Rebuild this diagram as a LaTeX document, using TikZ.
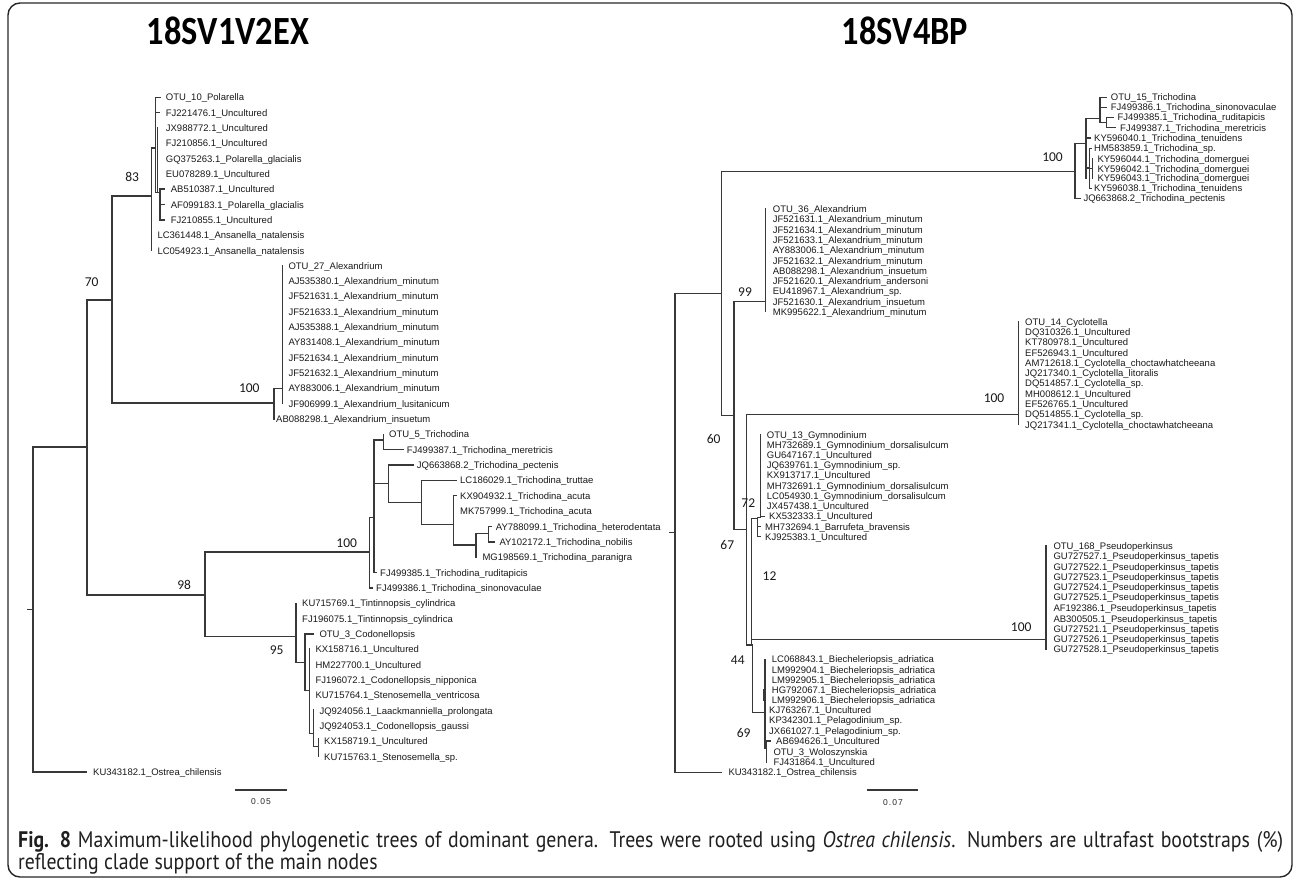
\documentclass[tikz,border=0pt]{standalone}
\usepackage{fontspec}
\setmainfont{Liberation Sans}
\newfontfamily\leaffont{Liberation Sans}
\newfontfamily\bsfont{Carlito}
\newfontfamily\ttlfont{Carlito}
\newfontfamily\capfont{PT Sans}[FakeStretch=0.88]
\newcount\leafno
\tikzset{
  br/.style={draw=black!78, line width=1.2pt, line cap=rect},
  leaf/.style={anchor=base west, inner sep=0pt, font=\leaffont\fontsize{9.5}{10}\selectfont, text=black!90},
  boot/.style={inner sep=0pt, font=\bsfont\fontsize{13.5}{14}\selectfont, text=black!90},
  ttl/.style={inner sep=0pt, font=\ttlfont\bfseries\fontsize{40}{44}\selectfont, xscale=0.86},
  sbar/.style={inner sep=0pt, font=\leaffont\fontsize{8.5}{9}\selectfont\addfontfeature{LetterSpace=12}, text=black!85},
  capt/.style={anchor=base west, inner sep=0pt, font=\capfont\fontsize{22.5}{26}\selectfont, text=black!88},
  frame/.style={draw=black!85, line width=1.4pt, rounded corners=12pt}
}
\newcommand\lf[3]{\global\advance\leafno by 1\relax\node[leaf] (leaf\the\leafno) at (#1,{#2+3.4}) {#3};}
\newcommand\bsl[4]{\node[boot] (#1) at (#2,#3) {#4};}
\begin{document}
\begin{tikzpicture}[x=1pt,y=-1pt]
\useasboundingbox (0,0) rectangle (1295,879);
\draw[frame] (8,3) rectangle (1292,877);
\node[ttl] (title1) at (228,31) {18SV1V2EX};
\node[ttl] (title2) at (905,31) {18SV4BP};
% ================= LEFT TREE =================
\draw[br] (28,609.5)--(33,609.5) (33,447)--(33,772) (33,772)--(86,772) (33,447)--(87,447)
  (87,300)--(87,595) (87,300)--(112,300) (87,595)--(205,595)
  (112,196)--(112,403) (112,196)--(151.7,196) (112,403)--(274,403);
% 83 clade
\draw[br] (151.7,148)--(151.7,250.7) (151.7,148)--(155.7,148)
  (155.7,97.3)--(155.7,192.7) (155.7,97.3)--(160,97.3) (155.7,112.7)--(159,112.7)
  (157.3,128)--(157.3,192.7) (155.7,192.7)--(160,192.7)
  (160,189)--(160,220) (160,189)--(164,189) (160,204.7)--(164,204.7) (160,220)--(164,220);
\lf{165.7}{97.3}{OTU\_10\_Polarella}
\lf{165.7}{112.7}{FJ221476.1\_Uncultured}
\lf{165.7}{128}{JX988772.1\_Uncultured}
\lf{165.7}{143.3}{FJ210856.1\_Uncultured}
\lf{165.7}{158.7}{GQ375263.1\_Polarella\_glacialis}
\lf{165.7}{174}{EU078289.1\_Uncultured}
\lf{170.7}{189}{AB510387.1\_Uncultured}
\lf{170.7}{204.7}{AF099183.1\_Polarella\_glacialis}
\lf{170.7}{220}{FJ210855.1\_Uncultured}
\lf{157.3}{235.3}{LC361448.1\_Ansanella\_natalensis}
\lf{157.3}{250.7}{LC054923.1\_Ansanella\_natalensis}
% Alexandrium clade
\draw[br] (274,388.3)--(274,419) (274,388.3)--(282.7,388.3) (282.7,265.7)--(282.7,403.7);
\lf{288.3}{265.7}{OTU\_27\_Alexandrium}
\lf{288.3}{281}{AJ535380.1\_Alexandrium\_minutum}
\lf{288.3}{296.3}{JF521631.1\_Alexandrium\_minutum}
\lf{288.3}{311.7}{JF521633.1\_Alexandrium\_minutum}
\lf{288.3}{327}{AJ535388.1\_Alexandrium\_minutum}
\lf{288.3}{342.3}{AY831408.1\_Alexandrium\_minutum}
\lf{288.3}{357.7}{JF521634.1\_Alexandrium\_minutum}
\lf{288.3}{373}{JF521632.1\_Alexandrium\_minutum}
\lf{288.3}{388.3}{AY883006.1\_Alexandrium\_minutum}
\lf{288.3}{403.7}{JF906999.1\_Alexandrium\_lusitanicum}
\lf{276}{419}{AB088298.1\_Alexandrium\_insuetum}
% 98 clade
\draw[br] (205,552)--(205,636.7) (205,552)--(369.3,552) (205,636.7)--(296,636.7);
% Trichodina
\draw[br] (369.3,517.3)--(369.3,588) (369.3,588)--(372,588) (369.3,517.3)--(374,517.3)
  (374,440)--(374,572.7) (374,572.7)--(376,572.7) (374,440)--(383.3,440)
  (383.3,434.3)--(383.3,449.7) (383.3,449.7)--(403.3,449.7)
  (374,483.3)--(388.3,483.3) (388.3,465)--(388.3,502.7) (388.3,465)--(413.3,465)
  (388.3,502.7)--(421.7,502.7) (421.7,480.3)--(421.7,524.3) (421.7,480.3)--(456.7,480.3)
  (421.7,524.3)--(453.3,524.3) (453.3,495.7)--(453.3,545) (453.3,495.7)--(456,495.7)
  (453.3,545)--(476,545) (476,533.3)--(476,557.3) (476,533.3)--(488.3,533.3)
  (488.3,526.7)--(488.3,542) (488.3,526.7)--(491,526.7) (488.3,542)--(494,542);
\lf{389}{434.3}{OTU\_5\_Trichodina}
\lf{406.7}{449.7}{FJ499387.1\_Trichodina\_meretricis}
\lf{416.7}{465}{JQ663868.2\_Trichodina\_pectenis}
\lf{460}{480.3}{LC186029.1\_Trichodina\_truttae}
\lf{460}{495.7}{KX904932.1\_Trichodina\_acuta}
\lf{460}{511.3}{MK757999.1\_Trichodina\_acuta}
\lf{495.7}{526.7}{AY788099.1\_Trichodina\_heterodentata}
\lf{499.3}{542}{AY102172.1\_Trichodina\_nobilis}
\lf{482.3}{557.3}{MG198569.1\_Trichodina\_paranigra}
\lf{380}{572.7}{FJ499385.1\_Trichodina\_ruditapicis}
\lf{376}{588}{FJ499386.1\_Trichodina\_sinonovaculae}
% 95 clade
\draw[br] (296,603.3)--(296,662.7) (296,662.7)--(305,662.7) (305,634)--(305,690.7)
  (305,634)--(313.3,634) (305,690.7)--(309.3,690.7) (309.3,648.3)--(309.3,733.3)
  (309.3,733.3)--(313.3,733.3) (313.3,709.3)--(313.3,746.7) (313.3,746.7)--(318.3,746.7)
  (318.3,738.3)--(318.3,756.7);
\lf{302}{603.3}{KU715769.1\_Tintinnopsis\_cylindrica}
\lf{302}{618.7}{FJ196075.1\_Tintinnopsis\_cylindrica}
\lf{319.3}{634}{OTU\_3\_Codonellopsis}
\lf{315.3}{649.3}{KX158716.1\_Uncultured}
\lf{315.3}{664.7}{HM227700.1\_Uncultured}
\lf{315.3}{680}{FJ196072.1\_Codonellopsis\_nipponica}
\lf{315.3}{695.3}{KU715764.1\_Stenosemella\_ventricosa}
\lf{319.3}{710.7}{JQ924056.1\_Laackmanniella\_prolongata}
\lf{319.3}{726}{JQ924053.1\_Codonellopsis\_gaussi}
\lf{324}{741.3}{KX158719.1\_Uncultured}
\lf{324}{756.7}{KU715763.1\_Stenosemella\_sp.}
\lf{93}{772}{KU343182.1\_Ostrea\_chilensis}
% bootstraps left
\bsl{b83}{132.2}{176.7}{83}
\bsl{b70}{91.7}{281.7}{70}
\bsl{b100a}{249.3}{388.3}{100}
\bsl{b100b}{346.7}{542.7}{100}
\bsl{b98}{184.2}{585}{98}
\bsl{b95}{276.7}{650}{95}
% scale bar left
\draw[br] (236,790)--(286,790);
\node[sbar] (sb1) at (261,802) {0.05};
% ================= RIGHT TREE =================
\draw[br] (670,532.7)--(675,532.7) (675,293.3)--(675,772.3) (675,772.3)--(721.7,772.3)
  (675,293.3)--(721.7,293.3) (721.7,171.7)--(721.7,415.7) (721.7,171.7)--(1075,171.7)
  (721.7,415.7)--(734,415.7) (746.7,414.3)--(1018.3,414.3)
  (734,301.7)--(734,529.3) (734,301.7)--(765.7,301.7)
  (765.7,209)--(765.7,311.7) (1018.3,321.7)--(1018.3,424.7)
  (734,529.3)--(746.7,529.3) (746.7,414.3)--(746.7,645) (751.7,518.3)--(751.7,645)
  (746.7,645)--(752.7,645) (751.7,639.3)--(1046,639.3) (1046,546)--(1046,649.3)
  (751.7,518.3)--(757.3,518.3) (757.3,517.3)--(757.3,536.7) (757.3,526.7)--(760,526.7)
  (757.3,536.7)--(760,536.7) (757.3,517.3)--(760.7,517.3) (760.7,435)--(760.7,516.3)
  (760.7,516.3)--(764,516.3)
  (752.7,645)--(752.7,712.7) (752.7,712.7)--(765,712.7) (765,659.3)--(765,748.3)
  (765,748.3)--(766.7,748.3) (766.7,741)--(766.7,762) (766.7,741)--(770.7,741)
  (763.5,690)--(763.5,700);
% right Trichodina
\draw[br] (1075,143.3)--(1075,198.3) (1075,198.3)--(1080,198.3) (1075,143.3)--(1086,143.3)
  (1086,118.3)--(1086,178) (1086,118.3)--(1100,118.3) (1100,97.3)--(1100,122.7)
  (1100,97.3)--(1106,97.3) (1100,107.3)--(1106,107.3) (1100,122.7)--(1106.7,122.7)
  (1106.7,117.3)--(1106.7,127.7) (1106.7,117.3)--(1113,117.3) (1106.7,127.7)--(1115,127.7)
  (1086,138)--(1090,138) (1086,168)--(1089.3,168) (1089.3,148.3)--(1089.3,188.3)
  (1089.3,148.3)--(1091,148.3) (1089.3,188.3)--(1091,188.3) (1089.3,168.7)--(1092.3,168.7)
  (1092.3,158.7)--(1092.3,178.3);
\lf{1110.7}{97.3}{OTU\_15\_Trichodina}
\lf{1110.7}{107.3}{FJ499386.1\_Trichodina\_sinonovaculae}
\lf{1117.3}{117.3}{FJ499385.1\_Trichodina\_ruditapicis}
\lf{1120}{127.7}{FJ499387.1\_Trichodina\_meretricis}
\lf{1094}{138}{KY596040.1\_Trichodina\_tenuidens}
\lf{1094}{148.3}{HM583859.1\_Trichodina\_sp.}
\lf{1097.3}{158.7}{KY596044.1\_Trichodina\_domerguei}
\lf{1097.3}{168.7}{KY596042.1\_Trichodina\_domerguei}
\lf{1097.3}{178.3}{KY596043.1\_Trichodina\_domerguei}
\lf{1094}{188.3}{KY596038.1\_Trichodina\_tenuidens}
\lf{1083.3}{198.3}{JQ663868.2\_Trichodina\_pectenis}
% right Alexandrium
\lf{772.7}{209}{OTU\_36\_Alexandrium}
\lf{772.7}{219.3}{JF521631.1\_Alexandrium\_minutum}
\lf{772.7}{230}{JF521634.1\_Alexandrium\_minutum}
\lf{772.7}{240}{JF521633.1\_Alexandrium\_minutum}
\lf{772.7}{250.3}{AY883006.1\_Alexandrium\_minutum}
\lf{772.7}{260.7}{JF521632.1\_Alexandrium\_minutum}
\lf{772.7}{270.7}{AB088298.1\_Alexandrium\_insuetum}
\lf{772.7}{280.7}{JF521620.1\_Alexandrium\_andersoni}
\lf{772.7}{291}{EU418967.1\_Alexandrium\_sp.}
\lf{772.7}{301.7}{JF521630.1\_Alexandrium\_insuetum}
\lf{772.7}{311.7}{MK995622.1\_Alexandrium\_minutum}
% Cyclotella
\lf{1025}{321.7}{OTU\_14\_Cyclotella}
\lf{1025}{332}{DQ310326.1\_Uncultured}
\lf{1025}{342.3}{KT780978.1\_Uncultured}
\lf{1025}{352.7}{EF526943.1\_Uncultured}
\lf{1025}{362.7}{AM712618.1\_Cyclotella\_choctawhatcheeana}
\lf{1025}{373}{JQ217340.1\_Cyclotella\_litoralis}
\lf{1025}{383.3}{DQ514857.1\_Cyclotella\_sp.}
\lf{1025}{393.7}{MH008612.1\_Uncultured}
\lf{1025}{404}{EF526765.1\_Uncultured}
\lf{1025}{414.3}{DQ514855.1\_Cyclotella\_sp.}
\lf{1025}{424.7}{JQ217341.1\_Cyclotella\_choctawhatcheeana}
% Gymnodinium
\lf{766.7}{434.7}{OTU\_13\_Gymnodinium}
\lf{766.7}{445}{MH732689.1\_Gymnodinium\_dorsalisulcum}
\lf{766.7}{455}{GU647167.1\_Uncultured}
\lf{766.7}{465}{JQ639761.1\_Gymnodinium\_sp.}
\lf{766.7}{475}{KX913717.1\_Uncultured}
\lf{766.7}{485.7}{MH732691.1\_Gymnodinium\_dorsalisulcum}
\lf{766.7}{496}{LC054930.1\_Gymnodinium\_dorsalisulcum}
\lf{766.7}{506}{JX457438.1\_Uncultured}
\lf{769}{516.3}{KX532333.1\_Uncultured}
\lf{765}{526.7}{MH732694.1\_Barrufeta\_bravensis}
\lf{765}{536.7}{KJ925383.1\_Uncultured}
% Pseudoperkinsus
\lf{1053.3}{546}{OTU\_168\_Pseudoperkinsus}
\lf{1053.3}{556.3}{GU727527.1\_Pseudoperkinsus\_tapetis}
\lf{1053.3}{566.7}{GU727522.1\_Pseudoperkinsus\_tapetis}
\lf{1053.3}{576.7}{GU727523.1\_Pseudoperkinsus\_tapetis}
\lf{1053.3}{586.7}{GU727524.1\_Pseudoperkinsus\_tapetis}
\lf{1053.3}{597.3}{GU727525.1\_Pseudoperkinsus\_tapetis}
\lf{1053.3}{608.3}{AF192386.1\_Pseudoperkinsus\_tapetis}
\lf{1053.3}{618.7}{AB300505.1\_Pseudoperkinsus\_tapetis}
\lf{1053.3}{629}{GU727521.1\_Pseudoperkinsus\_tapetis}
\lf{1053.3}{639}{GU727526.1\_Pseudoperkinsus\_tapetis}
\lf{1053.3}{649.3}{GU727528.1\_Pseudoperkinsus\_tapetis}
% Biecheleriopsis group
\lf{771.7}{659.3}{LC068843.1\_Biecheleriopsis\_adriatica}
\lf{771.7}{669.7}{LM992904.1\_Biecheleriopsis\_adriatica}
\lf{771.7}{680}{LM992905.1\_Biecheleriopsis\_adriatica}
\lf{771.7}{690}{HG792067.1\_Biecheleriopsis\_adriatica}
\lf{771.7}{700.3}{LM992906.1\_Biecheleriopsis\_adriatica}
\lf{769}{710}{KJ763267.1\_Uncultured}
\lf{769}{720.3}{KP342301.1\_Pelagodinium\_sp.}
\lf{769}{730.7}{JX661027.1\_Pelagodinium\_sp.}
\lf{776}{741}{AB694626.1\_Uncultured}
\lf{773.3}{751.7}{OTU\_3\_Woloszynskia}
\lf{773.3}{762}{FJ431864.1\_Uncultured}
\lf{728.3}{772.3}{KU343182.1\_Ostrea\_chilensis}
% bootstraps right
\bsl{r100a}{1052.5}{156.7}{100}
\bsl{r99}{745}{291.7}{99}
\bsl{r60}{713.7}{439}{60}
\bsl{r100b}{994}{398.3}{100}
\bsl{r72}{748.3}{503.3}{72}
\bsl{r67}{727.3}{545}{67}
\bsl{r12}{769.5}{576}{12}
\bsl{r100c}{1021.2}{626.7}{100}
\bsl{r44}{737.8}{660}{44}
\bsl{r69}{743.7}{733.3}{69}
% scale bar right
\draw[br] (868,790)--(917,790);
\node[sbar] (sb2) at (893,803) {0.07};
% caption
\node[capt] (cap1) at (18,847)
  {\makebox[1265pt][s]{\textbf{Fig. 8} Maximum-likelihood phylogenetic trees of dominant genera. Trees were rooted using \textit{Ostrea chilensis}. Numbers are ultrafast bootstraps (\%)}};
\node[capt] (cap2) at (18,869) {reflecting clade support of the main nodes};
\end{tikzpicture}
\end{document}
